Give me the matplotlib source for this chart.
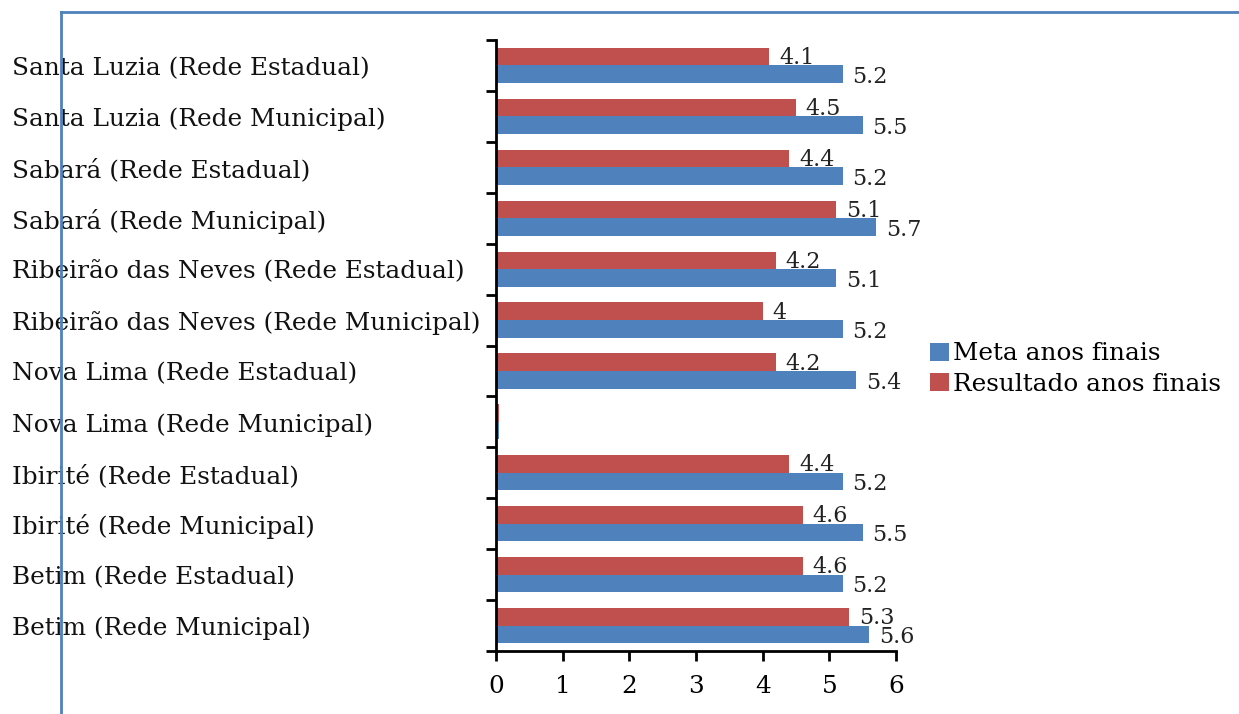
import matplotlib
matplotlib.use("Agg")
import matplotlib.pyplot as plt
import matplotlib.transforms as mtransforms
from matplotlib.lines import Line2D
from matplotlib.patches import Patch

# Categories listed from bottom to top of the chart
categories = [
    "Betim (Rede Municipal)",
    "Betim (Rede Estadual)",
    "Ibirité (Rede Municipal)",
    "Ibirité (Rede Estadual)",
    "Nova Lima (Rede Municipal)",
    "Nova Lima (Rede Estadual)",
    "Ribeirão das Neves (Rede Municipal)",
    "Ribeirão das Neves (Rede Estadual)",
    "Sabará (Rede Municipal)",
    "Sabará (Rede Estadual)",
    "Santa Luzia (Rede Municipal)",
    "Santa Luzia (Rede Estadual)",
]
meta = [5.6, 5.2, 5.5, 5.2, 0.04, 5.4, 5.2, 5.1, 5.7, 5.2, 5.5, 5.2]
resultado = [5.3, 4.6, 4.6, 4.4, 0.04, 4.2, 4.0, 4.2, 5.1, 4.4, 4.5, 4.1]
labeled = [True, True, True, True, False, True, True, True, True, True, True, True]
xticks = [0, 1, 2, 3, 4, 5, 6]

BLUE = "#4F81BD"
RED = "#C0504D"
FONT = "DejaVu Serif"
FS = 17.8
FS_VAL = 16

W, H = 1239, 714
fig = plt.figure(figsize=(W / 100, H / 100), dpi=100)
ax = fig.add_axes([496 / W, (H - 651) / H, 400 / W, (651 - 40) / H])

h = 0.345
ys = list(range(len(categories)))
ax.barh([y - h / 2 for y in ys], meta, height=h, color=BLUE, label="Meta anos finais")
ax.barh([y + h / 2 for y in ys], resultado, height=h, color=RED, label="Resultado anos finais")

for y, m, r, lab in zip(ys, meta, resultado, labeled):
    if not lab:
        continue
    ax.annotate(f"{m:g}", (m, y - h / 2), xytext=(7, -2), textcoords="offset points",
                ha="left", va="center", fontsize=FS_VAL, family=FONT, color="#222222")
    ax.annotate(f"{r:g}", (r, y + h / 2), xytext=(7, -1), textcoords="offset points",
                ha="left", va="center", fontsize=FS_VAL, family=FONT, color="#222222")

ax.set_xlim(0, 6)
ax.set_ylim(-0.5, len(categories) - 0.5)
ax.set_xticks(xticks)
ax.set_xticklabels([str(t) for t in xticks], fontsize=FS, family=FONT)
ax.set_yticks([y - 0.5 for y in ys] + [len(categories) - 0.5])
ax.set_yticklabels([])
ax.tick_params(axis="both", width=2, length=7, color="black", direction="out")
ax.tick_params(axis="x", pad=10)
for s in ("top", "right"):
    ax.spines[s].set_visible(False)
for s in ("left", "bottom"):
    ax.spines[s].set_linewidth(2)
    ax.spines[s].set_color("black")

# Category names, left-aligned at the figure edge
trans = mtransforms.blended_transform_factory(fig.transFigure, ax.transData)
for y, c in zip(ys, categories):
    ax.text(12 / W, y - 0.06, c, transform=trans, ha="left", va="center",
            fontsize=FS, family=FONT, color="#111111", clip_on=False)

handles = [Patch(facecolor=BLUE), Patch(facecolor=RED)]
fig.legend(handles, ["Meta anos finais", "Resultado anos finais"],
           loc="center left", bbox_to_anchor=(930 / W, 1 - 369 / H), frameon=False,
           prop={"family": FONT, "size": FS}, handlelength=0.75, handleheight=0.75,
           handletextpad=0.2, labelspacing=0.3, borderpad=0, borderaxespad=0)

# Thin blue frame lines along the top and left
fig.add_artist(Line2D([61 / W, 61 / W], [0, 1 - 12 / H], transform=fig.transFigure,
                      color=BLUE, lw=2, zorder=10))
fig.add_artist(Line2D([61 / W, 1], [1 - 12 / H, 1 - 12 / H], transform=fig.transFigure,
                      color=BLUE, lw=2, zorder=10))

fig.savefig("out.png", dpi=100)
